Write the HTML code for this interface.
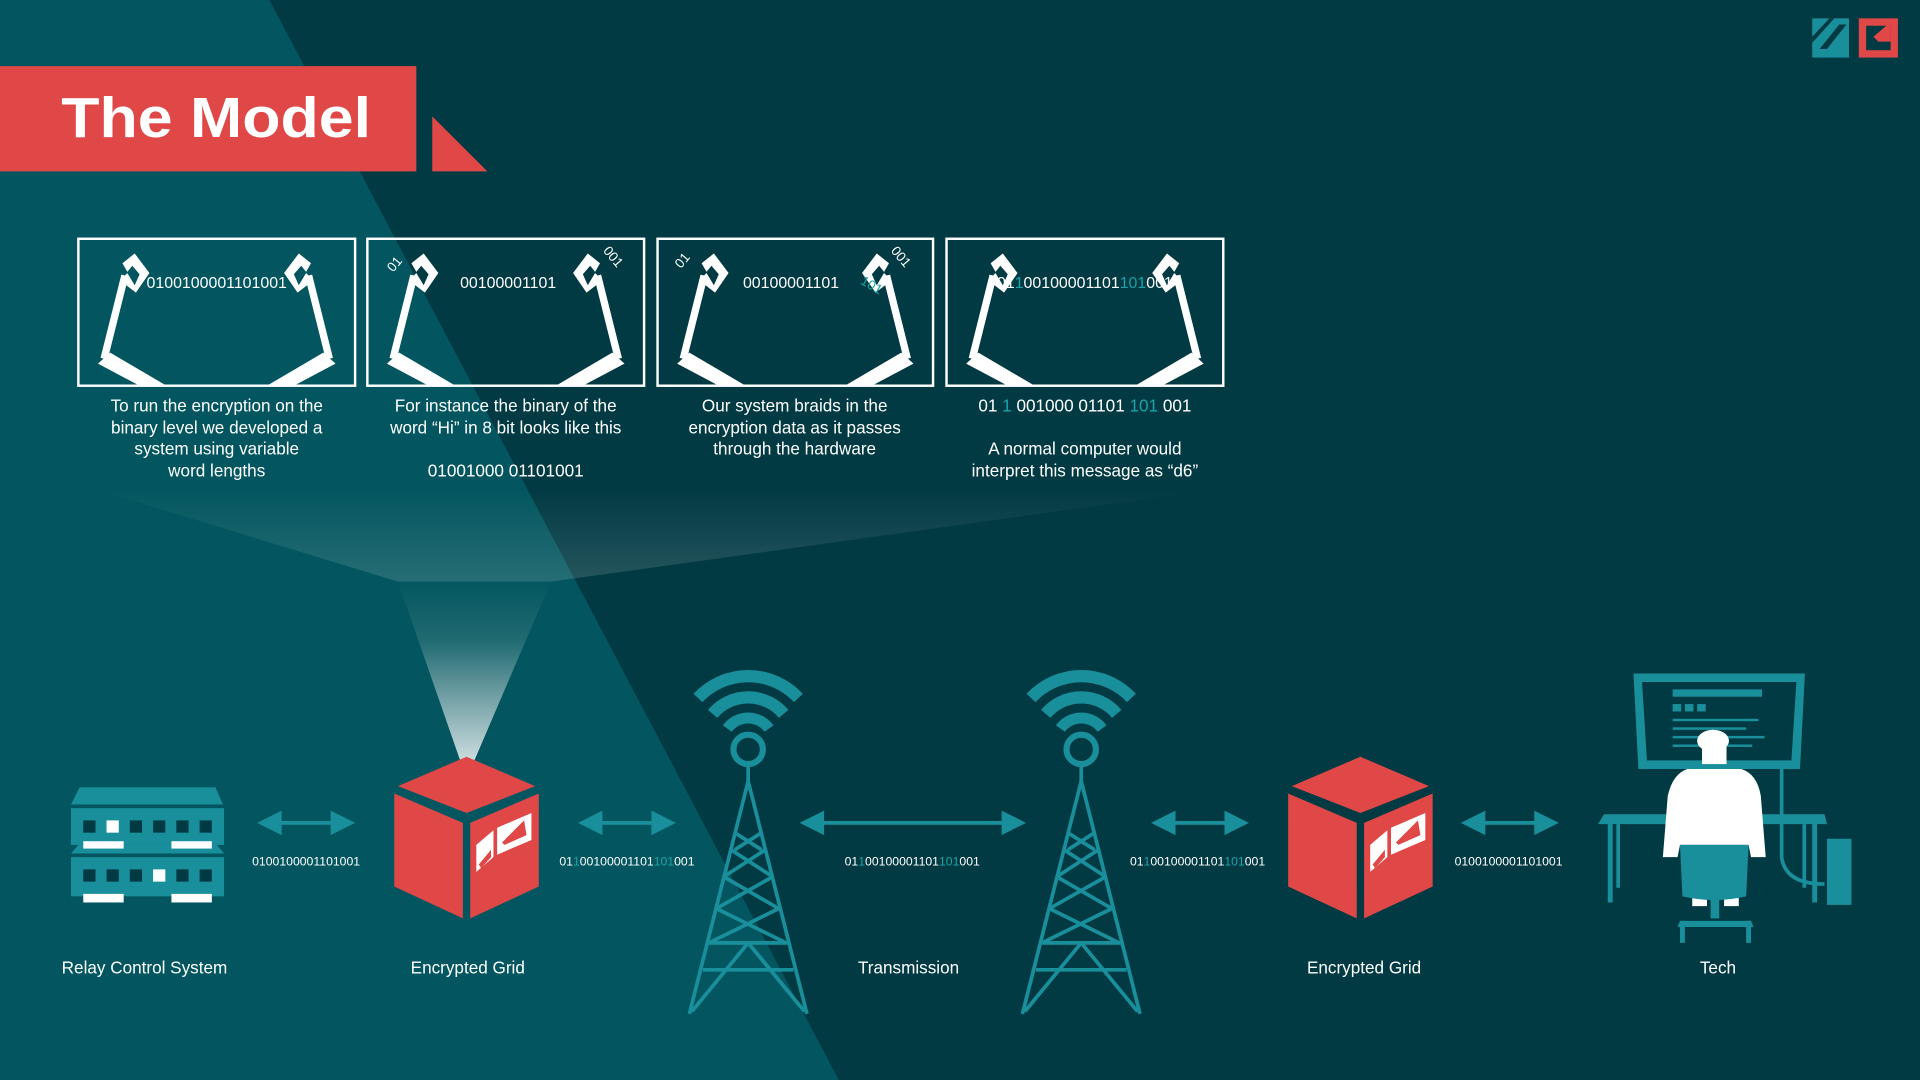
<!DOCTYPE html>
<html><head><meta charset="utf-8"><style>
html,body{margin:0;padding:0;background:#023a43;width:1920px;height:1080px;overflow:hidden}
svg{display:block}
text{font-family:"Liberation Sans",sans-serif;fill:#fff}
</style></head><body>
<svg width="1920" height="1080" viewBox="0 0 1568 882" xmlns="http://www.w3.org/2000/svg">
<defs>
<linearGradient id="beam" x1="0" y1="0" x2="0" y2="1">
<stop offset="0" stop-color="#ffffff" stop-opacity="0"/>
<stop offset="0.3" stop-color="#ffffff" stop-opacity="0.12"/>
<stop offset="1" stop-color="#ffffff" stop-opacity="0.9"/>
</linearGradient>
<linearGradient id="haze" x1="0" y1="0" x2="0" y2="1">
<stop offset="0" stop-color="#ffffff" stop-opacity="0"/>
<stop offset="1" stop-color="#ffffff" stop-opacity="0.14"/>
</linearGradient>
<g id="arm">
<polygon points="16,102 26,93 72,120 50,120" fill="#fff"/>
<polyline points="21,98 38,30" fill="none" stroke="#fff" stroke-width="6"/>
<polygon points="36,20 46,12 58,28 47,44 34,34 40,28 46,38 50,29 44,22 40,27" fill="#fff"/>
</g>
<g id="cube">
<polygon points="325,642 381,618 437,642 381,664" fill="#e04848"/>
<polygon points="322,648 378,672 378,750 322,724" fill="#e04848"/>
<polygon points="384,672 440,648 440,724 384,750" fill="#e04848"/>
<polygon points="389,690 403,678 403,700 389,712" fill="#fff"/>
<polygon points="391,706 401,694 401,700 393,709" fill="#e04848"/>
<polygon points="406,676 434,664 434,686 406,698" fill="#fff"/>
<polygon points="410,688 428,670 430,682 412,690" fill="#e04848"/>
</g>
<g id="tower" fill="none" stroke="#1a8f9c">
<path d="M570,570 A56,56 0 0 1 652,570" stroke-width="10"/>
<path d="M582,583 A38,38 0 0 1 640,583" stroke-width="10"/>
<path d="M594,595 A21,21 0 0 1 628,595" stroke-width="9"/>
<circle cx="611" cy="612" r="12" stroke-width="5"/>
<g stroke-width="3">
<line x1="611" y1="624" x2="611" y2="640"/>
<line x1="611" y1="638" x2="563" y2="828"/>
<line x1="611" y1="638" x2="659" y2="828"/>
<line x1="597" y1="694" x2="631" y2="716"/><line x1="625" y1="694" x2="591" y2="716"/>
<line x1="591" y1="716" x2="636" y2="742"/><line x1="631" y1="716" x2="585" y2="742"/>
<line x1="585" y1="742" x2="642" y2="770"/><line x1="636" y1="742" x2="579" y2="770"/>
<line x1="600" y1="680" x2="622" y2="694"/><line x1="622" y1="680" x2="600" y2="694"/>
<line x1="579" y1="770" x2="643" y2="770"/>
<line x1="574" y1="792" x2="648" y2="792"/>
<line x1="611" y1="770" x2="565" y2="826"/><line x1="611" y1="770" x2="657" y2="826"/>
</g>
</g>
<g id="arr" fill="#1a8f9c">
<line x1="10" y1="0" x2="70" y2="0" stroke="#1a8f9c" stroke-width="3"/>
<polygon points="0,0 20,-10 20,10"/>
<polygon points="80,0 60,-10 60,10"/>
</g>
</defs>
<rect width="1568" height="882" fill="#023a43"/>
<polygon points="0,0 220,0 685,882 0,882" fill="#03565f"/>
<!-- beam -->
<polygon points="80,400 990,400 450,475 325,475" fill="url(#haze)"/>
<polygon points="325,475 450,475 381,636" fill="url(#beam)"/>
<!-- title -->
<rect x="0" y="54" width="340" height="86" fill="#e04848"/>
<polygon points="353,95 353,140 398,140" fill="#e04848"/>
<text x="50" y="112" font-size="46" font-weight="bold" textLength="253" lengthAdjust="spacingAndGlyphs">The Model</text>
<!-- logo -->
<rect x="1480" y="15" width="30" height="32" fill="#1a8f9c"/>
<polygon points="1486,40 1502,20 1508,20 1492,40" fill="#023a43"/>
<polygon points="1480,30 1494,15 1498,15 1480,35" fill="#023a43"/>
<rect x="1518" y="15" width="32" height="32" fill="#e04848"/>
<rect x="1524" y="21" width="20" height="20" fill="#023a43"/>
<polygon points="1530,30 1544,18 1544,34 1534,34" fill="#e04848"/>
<!-- boxes -->
<g fill="none" stroke="#fff" stroke-width="2">
<rect x="64" y="195" width="226" height="120"/>
<rect x="300" y="195" width="226" height="120"/>
<rect x="537" y="195" width="225" height="120"/>
<rect x="773" y="195" width="226" height="120"/>
</g>
<use href="#arm" x="64" y="195"/>
<use href="#arm" transform="translate(290,195) scale(-1,1)"/>
<use href="#arm" x="300" y="195"/>
<use href="#arm" transform="translate(526,195) scale(-1,1)"/>
<use href="#arm" x="537" y="195"/>
<use href="#arm" transform="translate(762,195) scale(-1,1)"/>
<use href="#arm" x="773" y="195"/>
<use href="#arm" transform="translate(999,195) scale(-1,1)"/>
<g font-size="13" text-anchor="middle">
<text x="177" y="235">0100100001101001</text>
<text x="415" y="235">00100001101</text>
<text x="646" y="235">00100001101</text>
<text x="886" y="235">01<tspan style="fill:#1aa3a8">1</tspan>00100001101<tspan style="fill:#1aa3a8">101</tspan>001</text>
<text x="325" y="218" font-size="11" transform="rotate(-50 325 218)">01</text>
<text x="498" y="212" font-size="11" transform="rotate(50 498 212)">001</text>
<text x="560" y="215" font-size="11" transform="rotate(-50 560 215)">01</text>
<text x="733" y="212" font-size="11" transform="rotate(50 733 212)">001</text>
<text x="710" y="236" font-size="11" style="fill:#1aa3a8" transform="rotate(30 710 236)">101</text>
</g>
<g font-size="14" text-anchor="middle">
<text x="177" y="336">To run the encryption on the</text>
<text x="177" y="354">binary level we developed a</text>
<text x="177" y="371">system using variable</text>
<text x="177" y="389">word lengths</text>
<text x="413" y="336">For instance the binary of the</text>
<text x="413" y="354">word “Hi” in 8 bit looks like this</text>
<text x="413" y="389">01001000 01101001</text>
<text x="649" y="336">Our system braids in the</text>
<text x="649" y="354">encryption data as it passes</text>
<text x="649" y="371">through the hardware</text>
<text x="886" y="336">01 <tspan style="fill:#1aa3a8">1</tspan> 001000 01101 <tspan style="fill:#1aa3a8">101</tspan> 001</text>
<text x="886" y="371">A normal computer would</text>
<text x="886" y="389">interpret this message as “d6”</text>
</g>
<!-- server -->
<g fill="#1a8f9c">
<polygon points="65,643 176,643 182,657 58,657"/>
<rect x="58" y="660" width="125" height="30"/>
<polygon points="64,690 177,690 183,697 58,697"/>
<rect x="58" y="700" width="125" height="32"/>
</g>
<g fill="#023a43">
<rect x="68" y="670" width="10" height="10"/><rect x="106" y="670" width="10" height="10"/><rect x="125" y="670" width="10" height="10"/><rect x="144" y="670" width="10" height="10"/><rect x="163" y="670" width="10" height="10"/>
<rect x="68" y="710" width="10" height="10"/><rect x="87" y="710" width="10" height="10"/><rect x="106" y="710" width="10" height="10"/><rect x="144" y="710" width="10" height="10"/><rect x="163" y="710" width="10" height="10"/>
</g>
<g fill="#fff">
<rect x="87" y="670" width="10" height="10"/><rect x="125" y="710" width="10" height="10"/>
<rect x="68" y="687" width="33" height="6"/><rect x="140" y="687" width="33" height="6"/>
<rect x="68" y="730" width="33" height="7"/><rect x="140" y="730" width="33" height="7"/>
</g>
<!-- cubes -->
<use href="#cube"/>
<use href="#cube" x="730"/>
<!-- towers -->
<use href="#tower"/>
<use href="#tower" x="272"/>
<!-- arrows -->
<use href="#arr" transform="translate(210,672)"/>
<use href="#arr" transform="translate(472,672)"/>
<g fill="#1a8f9c">
<line x1="663" y1="672" x2="828" y2="672" stroke="#1a8f9c" stroke-width="3"/>
<polygon points="653,672 673,662 673,682"/>
<polygon points="838,672 818,662 818,682"/>
</g>
<use href="#arr" transform="translate(940,672)"/>
<use href="#arr" transform="translate(1193,672)"/>
<g font-size="10" text-anchor="middle">
<text x="250" y="707">0100100001101001</text>
<text x="512" y="707">01<tspan style="fill:#1aa3a8">1</tspan>00100001101<tspan style="fill:#1aa3a8">101</tspan>001</text>
<text x="745" y="707">01<tspan style="fill:#1aa3a8">1</tspan>00100001101<tspan style="fill:#1aa3a8">101</tspan>001</text>
<text x="978" y="707">01<tspan style="fill:#1aa3a8">1</tspan>00100001101<tspan style="fill:#1aa3a8">101</tspan>001</text>
<text x="1232" y="707">0100100001101001</text>
</g>
<g font-size="14" text-anchor="middle">
<text x="118" y="795">Relay Control System</text>
<text x="382" y="795">Encrypted Grid</text>
<text x="742" y="795">Transmission</text>
<text x="1114" y="795">Encrypted Grid</text>
<text x="1403" y="795">Tech</text>
</g>
<!-- tech -->
<g fill="#1a8f9c">
<polygon points="1334,550 1474,550 1470,628 1338,628"/>
<polygon points="1341,557 1467,557 1463,621 1345,621" fill="#023a43"/>
<rect x="1366" y="563" width="73" height="6"/>
<rect x="1366" y="575" width="7" height="6"/><rect x="1376" y="575" width="7" height="6"/><rect x="1386" y="575" width="7" height="6"/>
<rect x="1366" y="587" width="70" height="2"/><rect x="1366" y="594" width="60" height="2"/><rect x="1366" y="601" width="75" height="2"/><rect x="1366" y="608" width="65" height="2"/>
<polygon points="1310,665 1490,665 1492,673 1305,673"/>
<rect x="1313" y="673" width="4" height="64"/><rect x="1480" y="673" width="4" height="64"/>
<rect x="1320" y="673" width="3" height="52"/><rect x="1472" y="673" width="3" height="52"/>
<rect x="1492" y="685" width="20" height="54"/>
<path d="M1455,628 L1455,700 Q1458,722 1490,722" fill="none" stroke="#1a8f9c" stroke-width="3"/>
</g>
<g fill="#fff">
<ellipse cx="1399" cy="605" rx="13" ry="9"/>
<rect x="1390" y="610" width="20" height="14"/>
<path d="M1378,628 L1422,628 Q1435,632 1438,650 L1442,700 L1430,700 L1428,690 L1372,690 L1370,700 L1358,700 L1362,650 Q1366,632 1378,628 Z"/>
<rect x="1382" y="705" width="12" height="35"/><rect x="1408" y="705" width="12" height="35"/>
</g>
<g fill="#1a8f9c">
<path d="M1372,690 L1428,690 L1426,732 Q1400,738 1374,732 Z"/>
<rect x="1397" y="735" width="7" height="15"/>
<polygon points="1372,752 1430,752 1432,757 1370,757"/>
<rect x="1372" y="752" width="4" height="18"/><rect x="1426" y="752" width="4" height="18"/>
</g>
</svg>
</body></html>
